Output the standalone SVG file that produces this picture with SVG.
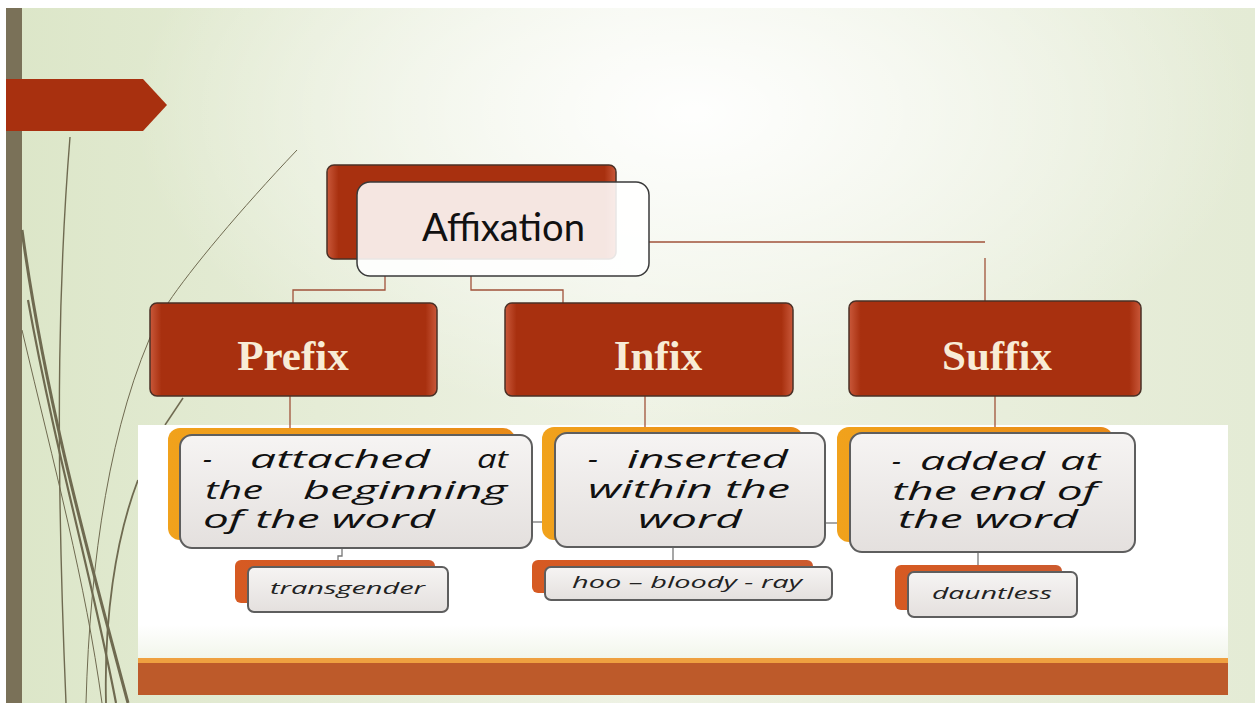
<svg xmlns="http://www.w3.org/2000/svg" width="1255" height="703" viewBox="0 0 1255 703">
<defs>
<linearGradient id="bgLin" x1="0" y1="0" x2="1" y2="0">
<stop offset="0" stop-color="#dce6c8"/><stop offset="0.5" stop-color="#eef2e4"/><stop offset="1" stop-color="#e4ebd5"/>
</linearGradient>
<radialGradient id="bgRad" cx="0.55" cy="0.15" r="0.45">
<stop offset="0" stop-color="#ffffff" stop-opacity="0.95"/><stop offset="1" stop-color="#ffffff" stop-opacity="0"/>
</radialGradient>
<linearGradient id="redG" x1="0" y1="0" x2="1" y2="0">
<stop offset="0" stop-color="#c9583a"/><stop offset="0.04" stop-color="#a8300f"/><stop offset="0.96" stop-color="#a8300f"/><stop offset="1" stop-color="#c9583a"/>
</linearGradient>
<linearGradient id="greyG" x1="0" y1="0" x2="0" y2="1">
<stop offset="0" stop-color="#f6f4f3"/><stop offset="1" stop-color="#e4e0de"/>
</linearGradient>
<linearGradient id="orangeG" x1="0" y1="0" x2="1" y2="0">
<stop offset="0" stop-color="#f1a21c"/><stop offset="1" stop-color="#e88a18"/>
</linearGradient>
<linearGradient id="exG" x1="0" y1="0" x2="1" y2="0">
<stop offset="0" stop-color="#d65a22"/><stop offset="1" stop-color="#cc5a2e"/>
</linearGradient>
<linearGradient id="whiteFade" x1="0" y1="0" x2="0" y2="1">
<stop offset="0.85" stop-color="#ffffff"/><stop offset="1" stop-color="#f1f5ea"/>
</linearGradient>
<style>
.lvl2{fill:url(#redG);stroke:#4a3026;stroke-width:1.5}
.lvl2t{font-family:"Liberation Serif",serif;font-weight:bold;font-size:43px;fill:#f8ecd6;text-anchor:middle}
.back{fill:url(#orangeG)}
.exback{fill:url(#exG)}
.front{fill:url(#greyG);stroke:#5e5e5e;stroke-width:2}
.def{font-family:"Open Sans","DejaVu Sans",sans-serif;font-style:italic;font-size:25px;fill:#111}
.ex{font-family:"Open Sans","DejaVu Sans",sans-serif;font-style:italic;font-size:16px;fill:#222}
.conn{stroke:#a0523a;stroke-width:1.3;fill:none}
.conng{stroke:#777;stroke-width:1.3;fill:none}
.wisp{fill:none;stroke:#6f6a50}
</style>
</defs>
<rect x="0" y="0" width="1255" height="703" fill="#ffffff"/>
<rect x="6" y="8" width="1249" height="695" fill="url(#bgLin)"/>
<rect x="6" y="8" width="1249" height="695" fill="url(#bgRad)"/>
<!-- left bar -->
<rect x="6" y="8" width="16" height="695" fill="#7a7158"/>
<!-- decorative wisps -->
<g id="wisps">
<path class="wisp" stroke-width="3" d="M22 230 C45 400 90 560 128 703"/>
<path class="wisp" stroke-width="2.2" d="M28 300 C55 450 95 590 116 703"/>
<path class="wisp" stroke-width="1.4" stroke="#8d8a70" d="M70 137 C60 260 54 420 66 703"/>
<path class="wisp" stroke-width="1" stroke="#b7bca4" d="M22 330 C55 470 85 580 102 703"/>
<path class="wisp" stroke-width="1" stroke="#c0c4ae" d="M297 150 C240 210 190 270 168 303"/>
<path class="wisp" stroke-width="1" stroke="#b9bea6" d="M158 320 C110 420 90 560 86 703"/>
<path class="wisp" stroke-width="1.5" d="M183 398 L165 425"/>
<path class="wisp" stroke-width="1.8" d="M138 480 C115 540 104 620 106 703"/>
</g>
<!-- red arrow tag -->
<path d="M6 79 H143 L167 105 L143 131 H6 Z" fill="#a8300f"/>
<!-- white content area -->
<rect x="138" y="425" width="1090" height="235" fill="url(#whiteFade)"/>
<!-- bottom bar -->
<rect x="138" y="658" width="1090" height="5" fill="#efa040"/>
<rect x="138" y="663" width="1090" height="32" fill="#bd5a2a"/>

<g id="connectors">
<path class="conn" d="M385 276 V290 H293 V303"/>
<path class="conn" d="M471 276 V290 H563 V303"/>
<path class="conn" d="M649 242 H985"/>
<path class="conn" d="M985 258 V301"/>
<path class="conn" d="M290 396 V428"/>
<path class="conn" d="M645 396 V427"/>
<path class="conn" d="M995 396 V427"/>
<path class="conng" d="M532 522 H542"/>
<path class="conng" d="M825 523 H837"/>
<path class="conng" d="M342 548 V556 H338 V560"/>
<path class="conng" d="M673 547 V560"/>
<path class="conng" d="M978 552 V565"/>
</g>

<g id="affixation">
<rect x="327" y="165" width="289" height="94" rx="7" class="lvl2"/>
<rect x="357" y="182" width="292" height="94" rx="13" fill="#ffffff" fill-opacity="0.88" stroke="#3a3a3a" stroke-width="1.5"/>
<text x="422" y="241" textLength="163" lengthAdjust="spacingAndGlyphs" font-family="Lato,'Open Sans',sans-serif" font-weight="400" font-size="38" fill="#111">Affixation</text>
</g>

<g id="prefix">
<rect x="150" y="303" width="287" height="93" rx="7" class="lvl2"/>
<text x="293" y="370" class="lvl2t">Prefix</text>
</g>
<g id="infix">
<rect x="505" y="303" width="288" height="93" rx="7" class="lvl2"/>
<text x="658" y="370" class="lvl2t">Infix</text>
</g>
<g id="suffix">
<rect x="849" y="301" width="292" height="95" rx="7" class="lvl2"/>
<text x="997" y="370" class="lvl2t">Suffix</text>
</g>

<g id="prefix-def">
<rect x="168" y="428" width="347" height="112" rx="12" class="back"/>
<rect x="180" y="435" width="352" height="113" rx="12" class="front"/>
<text class="def" y="468"><tspan x="203" textLength="9" lengthAdjust="spacingAndGlyphs">-</tspan><tspan x="250" textLength="180" lengthAdjust="spacingAndGlyphs">attached</tspan><tspan x="477" textLength="31" lengthAdjust="spacingAndGlyphs">at</tspan></text>
<text class="def" y="499"><tspan x="205" textLength="58" lengthAdjust="spacingAndGlyphs">the</tspan><tspan x="303" textLength="204" lengthAdjust="spacingAndGlyphs">beginning</tspan></text>
<text class="def" x="203" y="528" textLength="232" lengthAdjust="spacingAndGlyphs">of the word</text>
</g>
<g id="infix-def">
<rect x="542" y="427" width="261" height="113" rx="12" class="back"/>
<rect x="555" y="433" width="270" height="114" rx="12" class="front"/>
<text class="def" y="468"><tspan x="588" textLength="10" lengthAdjust="spacingAndGlyphs">-</tspan><tspan x="627" textLength="161" lengthAdjust="spacingAndGlyphs">inserted</tspan></text>
<text class="def" x="588" y="498" textLength="202" lengthAdjust="spacingAndGlyphs">within the</text>
<text class="def" x="638" y="528" textLength="104" lengthAdjust="spacingAndGlyphs">word</text>
</g>
<g id="suffix-def">
<rect x="837" y="427" width="276" height="115" rx="12" class="back"/>
<rect x="850" y="433" width="285" height="119" rx="12" class="front"/>
<text class="def" y="470"><tspan x="892" textLength="9" lengthAdjust="spacingAndGlyphs">-</tspan><tspan x="920" textLength="125" lengthAdjust="spacingAndGlyphs">added</tspan><tspan x="1060" textLength="40" lengthAdjust="spacingAndGlyphs">at</tspan></text>
<text class="def" x="892" y="500" textLength="205" lengthAdjust="spacingAndGlyphs">the end of</text>
<text class="def" x="898" y="528" textLength="180" lengthAdjust="spacingAndGlyphs">the word</text>
</g>

<g id="ex-transgender">
<rect x="235" y="560" width="200" height="43" rx="6" class="exback"/>
<rect x="248" y="567" width="200" height="45" rx="6" class="front"/>
<text class="ex" x="270" y="594" textLength="155" lengthAdjust="spacingAndGlyphs">transgender</text>
</g>
<g id="ex-infix">
<rect x="532" y="560" width="281" height="33" rx="6" class="exback"/>
<rect x="545" y="567" width="287" height="33" rx="6" class="front"/>
<text class="ex" x="572" y="588" textLength="230" lengthAdjust="spacingAndGlyphs">hoo – bloody - ray</text>
</g>
<g id="ex-dauntless">
<rect x="895" y="565" width="167" height="45" rx="6" class="exback"/>
<rect x="908" y="572" width="169" height="45" rx="6" class="front"/>
<text class="ex" x="932" y="599" textLength="120" lengthAdjust="spacingAndGlyphs">dauntless</text>
</g>
</svg>
